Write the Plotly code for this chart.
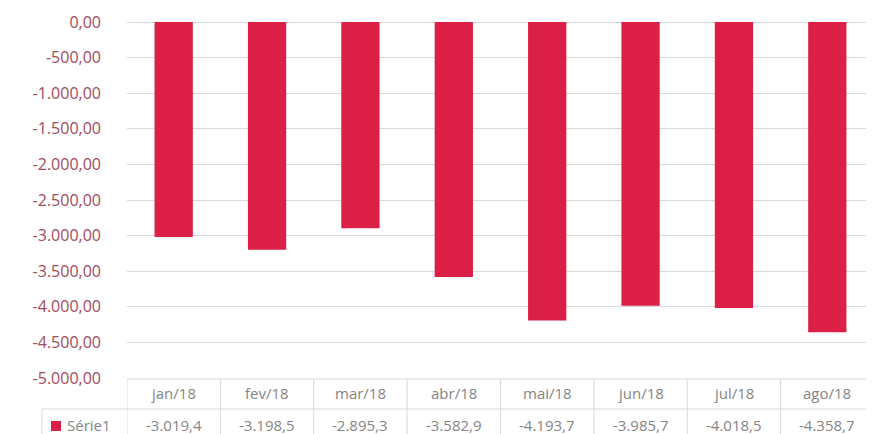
import plotly.graph_objects as go

categories = ["jan/18", "fev/18", "mar/18", "abr/18", "mai/18", "jun/18", "jul/18", "ago/18"]
values = [-3019.4, -3198.5, -2895.3, -3582.9, -4193.7, -3985.7, -4018.5, -4358.7]
series_name = "Série1"
tick_vals = [0, -500, -1000, -1500, -2000, -2500, -3000, -3500, -4000, -4500, -5000]


def fmt_br(v, dec):
    s = f"{abs(v):,.{dec}f}".replace(",", "X").replace(".", ",").replace("X", ".")
    return ("-" if v < 0 else "") + s


OFF = 8  # default page body margin
W, H = 874 - OFF, 434 - OFF
# plot area in screen pixels
X0, X1, Y0, Y1 = 127, 874, 22, 378
L, R, T, B = X0 - OFF, (874 - OFF) - (X1 - OFF), Y0 - OFF, H - (Y1 - OFF)
PW, PH = X1 - X0, Y1 - Y0

BAR = "#dc1f47"
GRID = "#d9d9d9"
TXT = "#858585"
FONT = "Open Sans"


def py(pix):
    return -(pix - Y1) / PH


def px(pix):
    return (pix - X0) / PW


fig = go.Figure()
fig.add_trace(go.Bar(x=categories, y=values, marker=dict(color=BAR, line=dict(width=0)),
                     width=0.41, name=series_name, showlegend=False))

annotations = []
for c in categories:
    annotations.append(dict(x=c, y=py(393), xref="x", yref="paper", yanchor="middle", text=c,
                            showarrow=False, font=dict(size=15, color=TXT, family=FONT)))
for c, v in zip(categories, values):
    annotations.append(dict(x=c, y=py(425), xref="x", yref="paper", yanchor="middle", text=fmt_br(v, 1),
                            showarrow=False, font=dict(size=15, color=TXT, family=FONT)))
annotations.append(dict(x=px(65), y=py(425), xref="paper", yref="paper", yanchor="middle", text=series_name,
                        showarrow=False, xanchor="left", font=dict(size=15, color=TXT, family=FONT)))

shapes = []
# legend key
shapes.append(dict(type="rect", xref="paper", yref="paper", x0=px(51), x1=px(61), y0=py(431), y1=py(421),
                   fillcolor=BAR, line=dict(width=0)))
# table horizontal lines
shapes.append(dict(type="line", xref="paper", yref="paper", x0=0, x1=1, y0=py(379), y1=py(379),
                   line=dict(color=GRID, width=1)))
shapes.append(dict(type="line", xref="paper", yref="paper", x0=px(42), x1=1, y0=py(409), y1=py(409),
                   line=dict(color=GRID, width=1)))
shapes.append(dict(type="line", xref="paper", yref="paper", x0=px(42), x1=px(42), y0=py(409), y1=py(440),
                   line=dict(color=GRID, width=1)))
# vertical separators
for i in range(len(categories) + 1):
    shapes.append(dict(type="line", xref="x", yref="paper", x0=i - 0.5, x1=i - 0.5, y0=py(379), y1=py(440),
                       line=dict(color=GRID, width=1)))

fig.update_layout(
    width=W, height=H,
    margin=dict(l=L, r=R, t=T, b=B),
    paper_bgcolor="white", plot_bgcolor="white",
    xaxis=dict(showticklabels=False, showgrid=False, zeroline=False, showline=False,
               range=[-0.5, len(categories) - 0.5], fixedrange=True),
    yaxis=dict(range=[-5000, 0], tickvals=tick_vals, ticktext=[fmt_br(v, 2) for v in tick_vals],
               showgrid=True, gridcolor=GRID, gridwidth=1, zeroline=True, zerolinecolor=GRID,
               zerolinewidth=1, showline=False, ticks="", ticklabelstandoff=25,
               tickfont=dict(size=16, color="#a44a5c", family=FONT)),
    annotations=annotations,
    shapes=shapes,
    font=dict(family=FONT),
)

fig.write_html("out.html")
